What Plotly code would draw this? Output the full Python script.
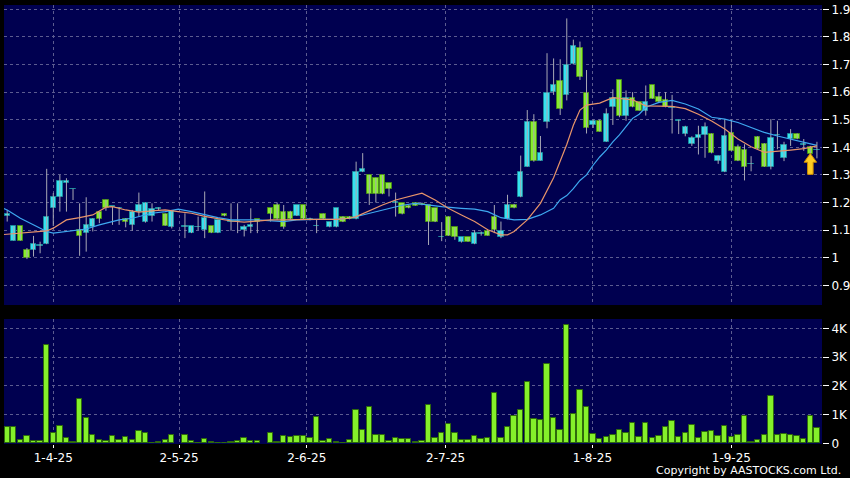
import plotly.graph_objects as go

# ---------------- data ----------------
bar_index = list(range(124))

open_ = [1.150, 1.062, 1.115, 1.028, 1.028, 1.044, 1.049, 1.179, 1.219, 1.270,
         1.248, 1.101, 1.089, 1.110, 1.166, 1.208, 1.184, 1.179, 1.141, 1.117,
         1.167, 1.128, 1.151, 1.178, 1.157, 1.110, None, 1.113, 1.089, 1.110,
         1.101, 1.115, 1.089, 1.157, 1.130, 1.130, 1.101, 1.110, 1.139, None,
         1.179, 1.191, 1.167, 1.167, 1.151, 1.191, 1.140, 1.114, 1.157, 1.110,
         1.110, 1.149, 1.149, 1.139, 1.310, 1.298, 1.288, 1.298, 1.270, 1.200,
         1.197, 1.188, 1.197, 1.195, 1.191, 1.179, 1.074, 1.149, 1.110, 1.058,
         1.074, 1.049, 1.087, 1.098, 1.149, 1.074, 1.139, 1.191, 1.219, 1.330,
         1.491, 1.352, 1.491, 1.599, 1.639, 1.590, 1.701, 1.759, 1.598, 1.481,
         1.495, 1.420, 1.547, 1.643, 1.515, 1.578, 1.563, 1.533, 1.624, 1.582,
         1.572, 1.543, 1.496, 1.448, 1.411, 1.432, 1.444, 1.448, 1.350, 1.310,
         1.451, 1.402, 1.390, 1.338, 1.439, 1.411, 1.329, 1.444, 1.362, 1.429,
         1.448, 1.410, 1.402, 1.390]

high = [1.173, 1.115, 1.115, 1.035, 1.079, 1.058, 1.322, 1.234, 1.300, 1.288,
        1.250, 1.197, 1.219, 1.143, 1.166, 1.210, 1.185, 1.183, 1.143, 1.173,
        1.236, 1.200, 1.197, 1.182, 1.160, 1.173, None, 1.161, 1.115, 1.149,
        1.240, 1.115, 1.137, 1.160, 1.197, 1.197, 1.119, 1.179, 1.140, None,
        1.180, 1.200, 1.191, 1.170, 1.191, 1.191, 1.145, 1.137, 1.160, 1.129,
        1.179, 1.150, 1.150, 1.348, 1.379, 1.300, 1.290, 1.300, 1.270, 1.236,
        1.197, 1.190, 1.200, 1.200, 1.191, 1.180, 1.129, 1.150, 1.110, 1.074,
        1.074, 1.100, 1.095, 1.100, 1.191, 1.131, 1.228, 1.195, 1.370, 1.535,
        1.520, 1.441, 1.741, 1.722, 1.719, 1.867, 1.790, 1.783, 1.680, 1.500,
        1.500, 1.541, 1.610, 1.643, 1.606, 1.600, 1.565, 1.624, 1.625, 1.600,
        1.600, 1.590, 1.500, 1.478, 1.440, 1.478, 1.490, 1.450, 1.370, 1.500,
        1.500, 1.410, 1.411, 1.368, 1.440, 1.415, 1.502, 1.496, 1.420, 1.466,
        1.450, 1.430, 1.405, 1.420]

low = [1.131, 1.062, 1.062, 0.995, 1.004, 1.016, 1.049, 1.115, 1.167, 1.167,
       1.209, 1.007, 1.022, 1.095, 1.125, 1.170, 1.119, 1.119, 1.110, 1.098,
       1.149, 1.127, 1.131, 1.170, 1.116, 1.106, None, 1.071, 1.089, 1.100,
       1.071, 1.089, 1.089, 1.150, 1.098, 1.089, 1.077, 1.089, 1.089, None,
       1.131, 1.137, 1.105, 1.139, 1.151, 1.139, 1.135, 1.089, 1.139, 1.110,
       1.110, 1.129, 1.139, 1.139, 1.310, 1.191, 1.200, 1.230, 1.222, 1.149,
       1.157, 1.179, 1.189, 1.190, 1.046, 1.129, 1.060, 1.079, 1.065, 1.055,
       1.058, 1.049, 1.080, 1.080, 1.089, 1.071, 1.139, 1.179, 1.219, 1.330,
       1.348, 1.352, 1.469, 1.590, 1.517, 1.570, 1.700, 1.644, 1.450, 1.470,
       1.457, 1.420, 1.481, 1.509, 1.496, 1.545, 1.533, 1.515, 1.576, 1.563,
       1.545, 1.450, 1.448, 1.440, 1.405, 1.374, 1.362, 1.378, 1.340, 1.310,
       1.387, 1.350, 1.280, 1.313, 1.393, 1.329, 1.320, 1.393, 1.350, 1.405,
       1.429, 1.387, 1.374, 1.360]

close = [1.157, 1.115, 1.062, 0.998, 1.049, 1.047, 1.149, 1.219, 1.279, 1.279,
         1.249, 1.079, 1.119, 1.139, 1.139, 1.179, 1.185, 1.180, 1.128, 1.165,
         1.191, 1.197, 1.177, 1.179, 1.116, 1.171, None, 1.114, 1.115, 1.111,
         1.143, 1.089, 1.137, 1.152, 1.131, 1.131, 1.110, 1.119, 1.131, None,
         1.157, 1.139, 1.110, 1.139, 1.191, 1.139, 1.141, 1.115, 1.139, 1.129,
         1.179, 1.129, 1.139, 1.310, 1.321, 1.230, 1.230, 1.230, 1.248, 1.201,
         1.157, 1.179, 1.189, 1.190, 1.131, 1.129, 1.075, 1.079, 1.074, 1.074,
         1.058, 1.089, 1.088, 1.080, 1.101, 1.098, 1.191, 1.179, 1.310, 1.491,
         1.352, 1.378, 1.598, 1.627, 1.538, 1.700, 1.768, 1.656, 1.469, 1.495,
         1.457, 1.520, 1.578, 1.515, 1.578, 1.545, 1.533, 1.563, 1.576, 1.563,
         1.545, 1.544, 1.500, 1.472, 1.432, 1.444, 1.472, 1.378, 1.368, 1.441,
         1.387, 1.350, 1.329, 1.339, 1.393, 1.329, 1.432, 1.445, 1.407, 1.448,
         1.429, 1.411, 1.374, 1.391]

volume = [560, 560, 120, 260, 95, 95, 3420, 350, 600, 200,
          35, 1530, 870, 280, 110, 80, 260, 110, 230, 130,
          430, 360, 20, 45, 120, 280, None, 280, 95, 10,
          140, 60, 20, 8, 45, 80, 170, 80, 70, None,
          350, 35, 240, 235, 240, 240, 200, 925, 80, 150,
          45, 10, 130, 1160, 460, 1270, 280, 280, 90, 170,
          140, 160, 35, 80, 1330, 170, 370, 680, 360, 100,
          100, 240, 140, 185, 1760, 170, 570, 960, 1160, 2130,
          840, 810, 2770, 880, 460, 4100, 1020, 1840, 1260, 310,
          160, 220, 290, 450, 360, 690, 210, 690, 185, 240,
          570, 775, 210, 350, 625, 185, 390, 440, 265, 590,
          220, 280, 950, 35, 115, 300, 1650, 290, 335, 280,
          255, 140, 950, 520]

ma_fast_x = [-0.5, 0, 2, 4, 6, 7, 9, 11, 13, 15, 16, 18, 20, 22, 24, 26, 28, 30, 32, 34,
             36, 38, 40, 42, 44, 46, 50, 52, 53, 55, 57, 59, 61, 63, 65, 67, 69, 71, 73,
             75, 76, 77, 79, 81, 83, 84, 85, 86, 87, 88, 90, 92, 93, 95, 97, 99, 101,
             103, 105, 107, 109, 111, 113, 115, 117, 119, 121, 123]
ma_fast_y = [1.084, 1.085, 1.091, 1.095, 1.097, 1.107, 1.137, 1.145, 1.155, 1.183, 1.185,
             1.173, 1.165, 1.170, 1.173, 1.167, 1.161, 1.150, 1.141, 1.133, 1.129, 1.132,
             1.137, 1.137, 1.139, 1.139, 1.139, 1.143, 1.149, 1.171, 1.191, 1.209, 1.222,
             1.234, 1.209, 1.179, 1.155, 1.131, 1.101, 1.083, 1.083, 1.095, 1.137, 1.197,
             1.290, 1.348, 1.410, 1.480, 1.535, 1.553, 1.560, 1.580, 1.578, 1.572, 1.550,
             1.548, 1.548, 1.540, 1.520, 1.495, 1.466, 1.430, 1.402, 1.382, 1.385, 1.390,
             1.395, 1.405]

ma_slow_x = [-0.5, 0, 2, 4, 6, 7, 9, 12, 14, 17, 19, 22, 24, 26, 28, 30, 32, 34, 38, 42,
             44, 47, 50, 52, 53, 55, 58, 60, 62, 64, 66, 69, 71, 73, 75, 77, 79, 81, 83,
             84, 85, 86, 87, 88, 89, 90, 91, 92, 93, 94, 95, 96, 97, 99, 101, 103, 105,
             107, 109, 111, 113, 115, 117, 119, 121, 123]
ma_slow_y = [1.178, 1.173, 1.143, 1.119, 1.095, 1.089, 1.095, 1.104, 1.119, 1.137, 1.143,
             1.161, 1.167, 1.176, 1.167, 1.155, 1.145, 1.137, 1.137, 1.131, 1.137, 1.139,
             1.139, 1.143, 1.149, 1.161, 1.179, 1.190, 1.197, 1.190, 1.185, 1.179, 1.176,
             1.167, 1.145, 1.137, 1.139, 1.155, 1.179, 1.210, 1.225, 1.250, 1.280, 1.300,
             1.335, 1.365, 1.390, 1.420, 1.445, 1.475, 1.505, 1.520, 1.545, 1.563, 1.570,
             1.557, 1.539, 1.509, 1.502, 1.490, 1.472, 1.454, 1.441, 1.429, 1.417, 1.407]

date_tick_pos = [7.0, 26.1, 45.5, 66.6, 88.9, 110.0]
date_tick_labels = ["1-4-25", "2-5-25", "2-6-25", "2-7-25", "1-8-25", "1-9-25"]
price_ticks = [0.9, 1.0, 1.1, 1.2, 1.3, 1.4, 1.5, 1.6, 1.7, 1.8, 1.9]
price_labels = ["0.9", "1", "1.1", "1.2", "1.3", "1.4", "1.5", "1.6", "1.7", "1.8", "1.9"]
vol_ticks = [0, 1000, 2000, 3000, 4000]
vol_labels = ["0", "1K", "2K", "3K", "4K"]
marked_bar = 122
copyright_text = "Copyright by AASTOCKS.com Ltd."

# ---------------- styles ----------------
UP_FILL, UP_EDGE = "#36e2f0", "#1c8c9c"
DN_FILL, DN_EDGE = "#86ee2c", "#4a8c1c"
WICK = "#a8a8b4"
GRID = "#5c5c90"
NAVY = "#000050"

# wicks
wx, wy = [], []
for i, h, l in zip(bar_index, high, low):
    if h is None:
        continue
    wx += [i, i, None]
    wy += [l, h, None]

# bodies
bx, by, bb, bc, be = [], [], [], [], []
for i, o, c in zip(bar_index, open_, close):
    if o is None:
        continue
    up = c >= o
    bx.append(i)
    bb.append(min(o, c))
    by.append(max(abs(c - o), 0.002))
    bc.append(UP_FILL if up else DN_FILL)
    be.append(UP_EDGE if up else DN_EDGE)

fig = go.Figure()
fig.add_trace(go.Scatter(x=wx, y=wy, mode="lines", line=dict(color=WICK, width=1),
                         xaxis="x", yaxis="y", hoverinfo="skip", showlegend=False))
fig.add_trace(go.Bar(x=bx, y=by, base=bb, width=0.82,
                     marker=dict(color=bc, line=dict(color=be, width=1)),
                     xaxis="x", yaxis="y", showlegend=False))
fig.add_trace(go.Scatter(x=ma_slow_x, y=ma_slow_y, mode="lines",
                         line=dict(color="#3ea8f0", width=1.2), xaxis="x", yaxis="y",
                         showlegend=False))
fig.add_trace(go.Scatter(x=ma_fast_x, y=ma_fast_y, mode="lines",
                         line=dict(color="#e8946a", width=1.2), xaxis="x", yaxis="y",
                         showlegend=False))
fig.add_trace(go.Bar(x=bar_index, y=volume, width=0.82,
                     marker=dict(color="#84f02a", line=dict(color="#2f6a0c", width=1)),
                     xaxis="x2", yaxis="y2", showlegend=False))

# arrow marker under the marked bar
ax = bar_index[marked_bar]
tip = low[marked_bar] + 0.004
hb = tip - 0.032
bot = tip - 0.076
arrow_path = (f"M {ax},{tip} L {ax+0.95},{hb} L {ax+0.42},{hb} L {ax+0.42},{bot} "
              f"L {ax-0.42},{bot} L {ax-0.42},{hb} L {ax-0.95},{hb} Z")
fig.add_shape(type="path", path=arrow_path, xref="x", yref="y",
              fillcolor="#ffcc22", line=dict(color="#d08c00", width=1))

axis_common = dict(showline=False, zeroline=False, gridcolor=GRID, griddash="3px,3px",
                   gridwidth=1, automargin=False)
fig.update_layout(
    width=850, height=478,
    margin=dict(l=4, r=28, t=5, b=34),
    paper_bgcolor="black", plot_bgcolor=NAVY,
    font=dict(family="DejaVu Sans", size=12, color="white"),
    showlegend=False, bargap=0,
    xaxis=dict(domain=[0, 1], anchor="y", range=[-0.486, 123.77], tickvals=date_tick_pos,
               ticktext=date_tick_labels, showticklabels=False, ticks="", **axis_common),
    yaxis=dict(domain=[0.3166, 1], anchor="x", side="right", range=[0.8286, 1.9156],
               tickvals=price_ticks, ticktext=price_labels, ticks="outside", ticklen=6,
               tickcolor="white", **axis_common),
    xaxis2=dict(domain=[0, 1], anchor="y2", matches="x", range=[-0.486, 123.77],
                tickvals=date_tick_pos, ticktext=date_tick_labels, ticks="outside",
                ticklen=3, tickcolor="white", **axis_common),
    yaxis2=dict(domain=[0, 0.2847], anchor="x2", side="right", range=[-24, 4323],
                tickvals=vol_ticks, ticktext=vol_labels, ticks="outside", ticklen=6,
                tickcolor="white", **axis_common),
)
fig.add_annotation(text=copyright_text, xref="paper", yref="paper",
                   x=(843 - 4) / 818, y=(444 - 470.3) / 439, xanchor="right",
                   yanchor="middle", showarrow=False,
                   font=dict(family="DejaVu Sans", size=11, color="white"))

fig.write_html("out.html",
               config={"displayModeBar": False},
               post_script="document.body.style.margin='0';"
                           "document.body.style.background='black';"
                           "document.body.style.overflow='hidden';")
